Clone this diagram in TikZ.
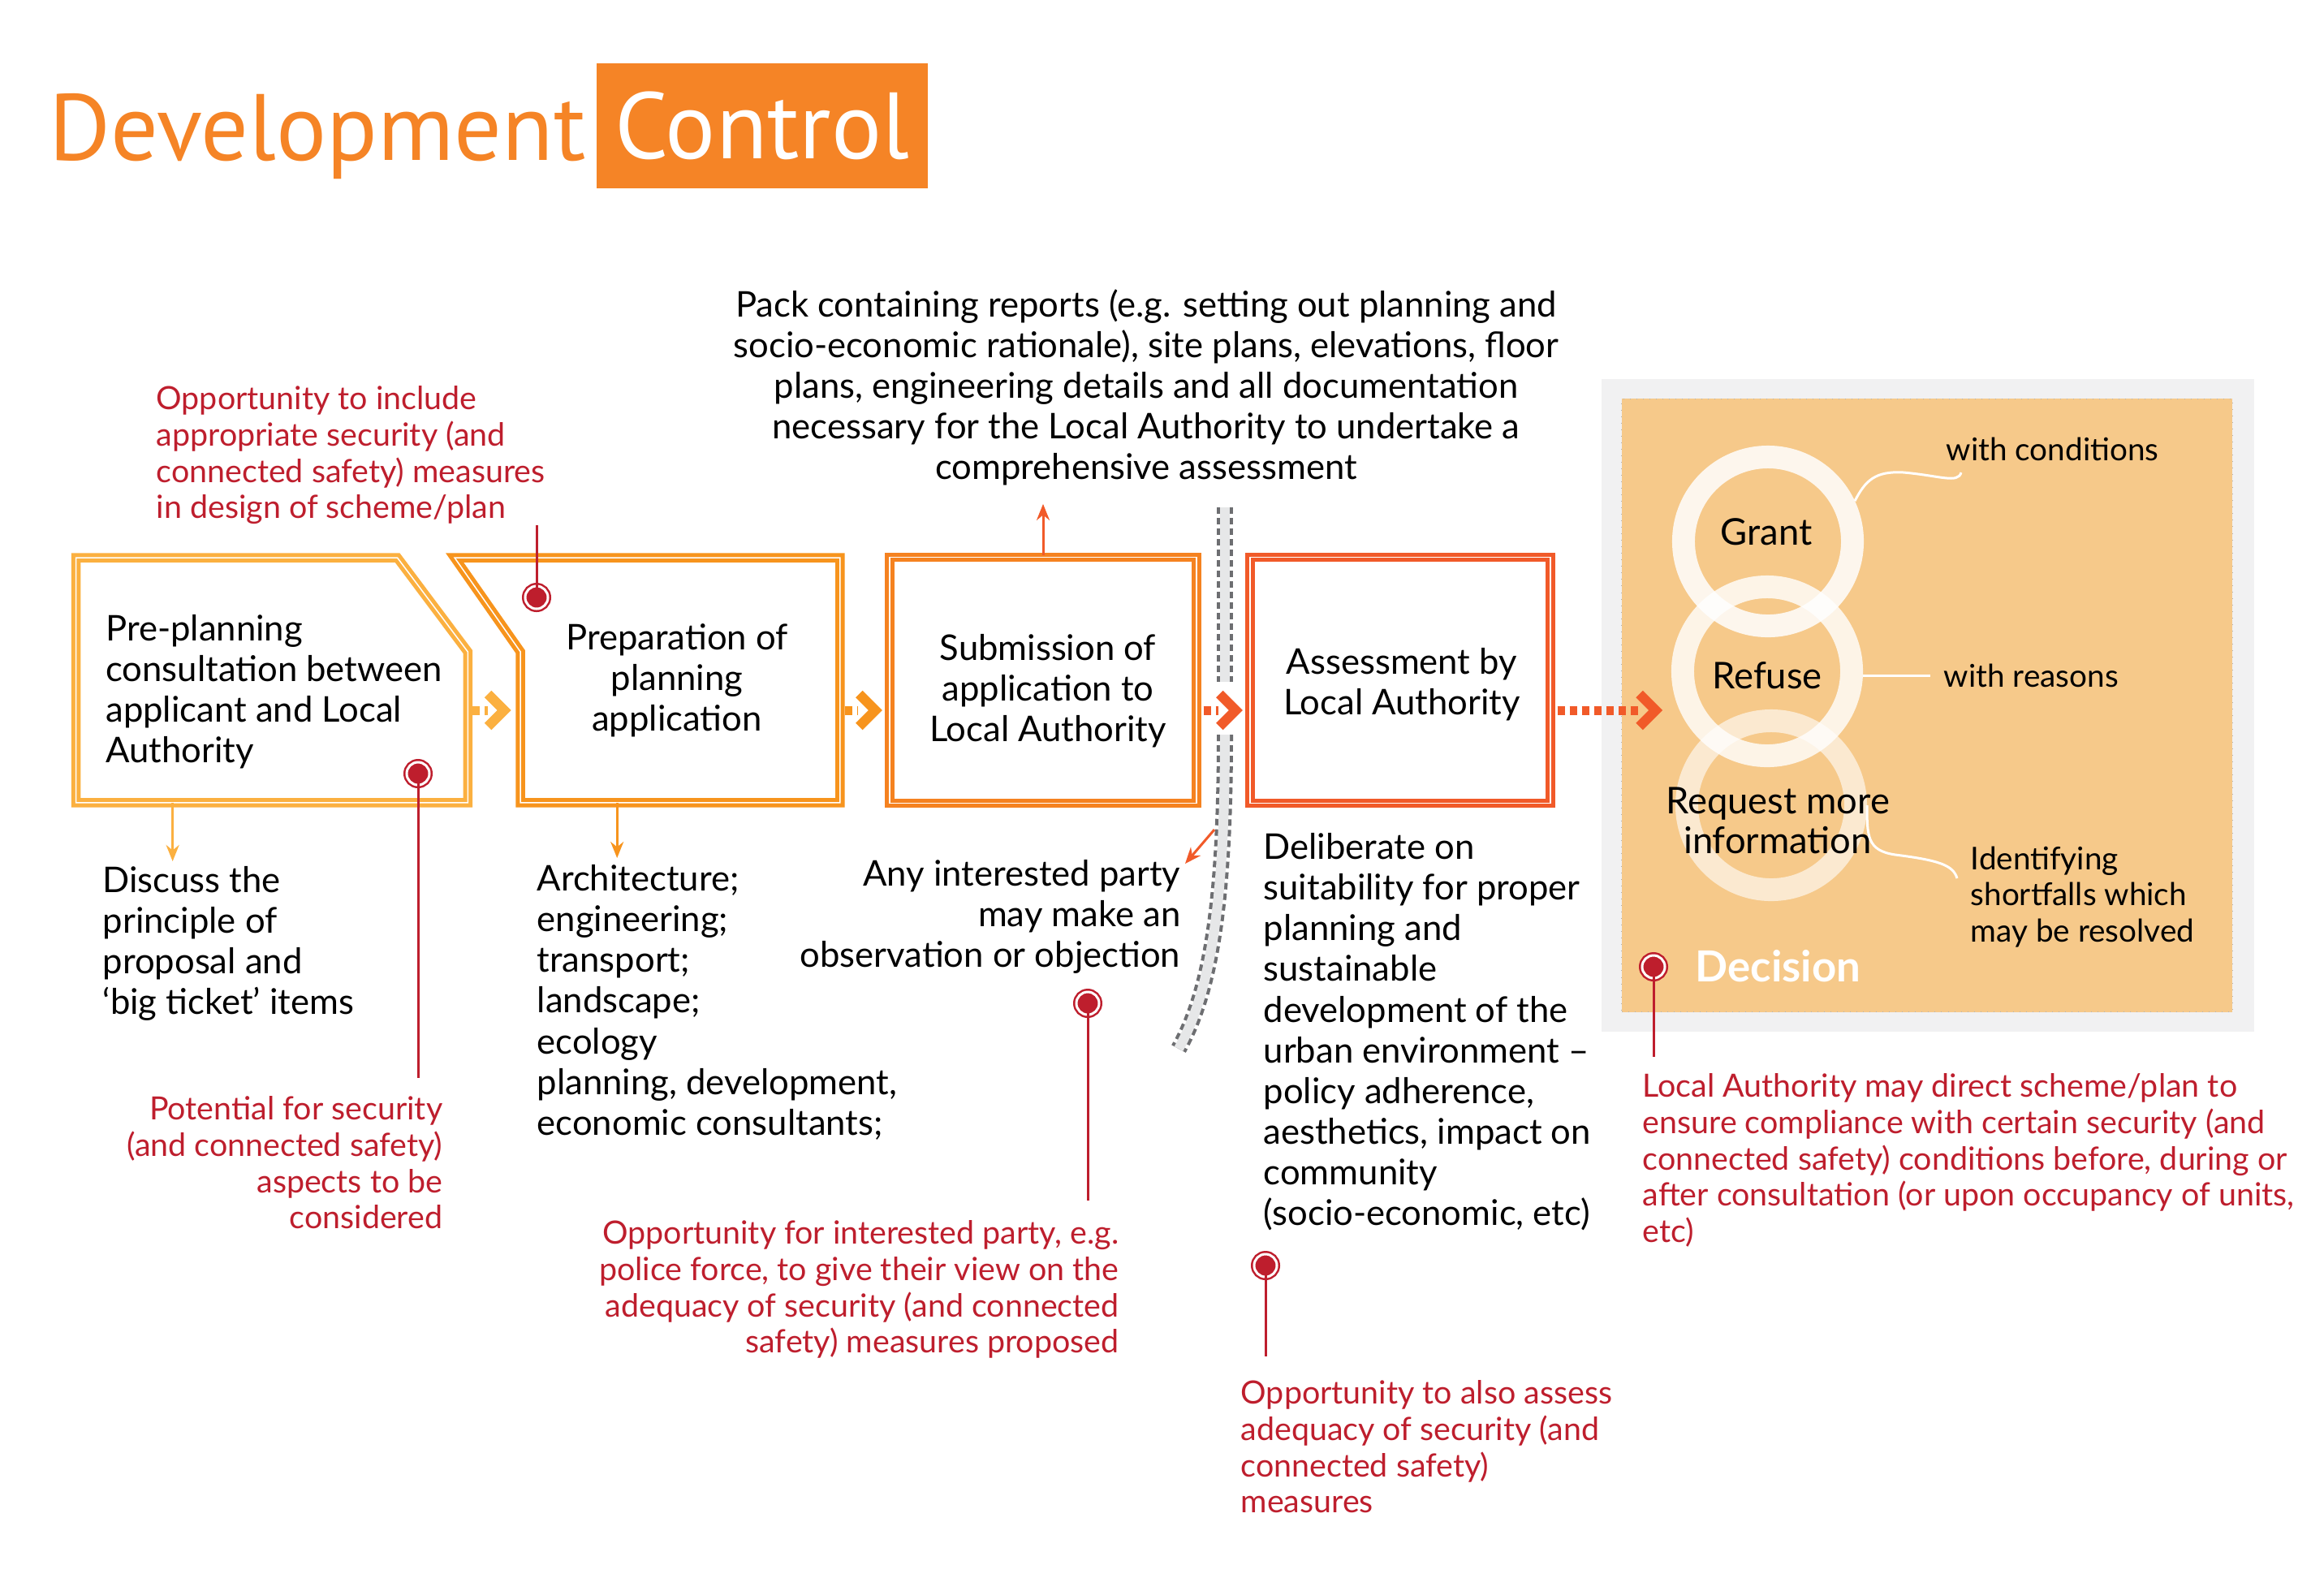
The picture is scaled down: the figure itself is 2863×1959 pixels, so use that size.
\documentclass[tikz,border=0pt]{standalone}
\usepackage{fontspec}
\setmainfont{Lato}
\newfontfamily\titlefont{PT Sans}
\usepackage{tikz}
\usetikzlibrary{calc,arrows.meta}

\definecolor{orT}{HTML}{F58426}
\definecolor{orA}{HTML}{FBB040}
\definecolor{orB}{HTML}{F7941D}
\definecolor{orC}{HTML}{F58220}
\definecolor{orD}{HTML}{F15A29}
\definecolor{redc}{HTML}{BE1E2D}
\definecolor{panel}{HTML}{F1F1F2}
\definecolor{sand}{HTML}{F6C98A}
\definecolor{band}{HTML}{E6E7E8}
\definecolor{bandedge}{HTML}{6D6E71}

\begin{document}
\begin{tikzpicture}[x=0.01cm,y=-0.01cm,
        txt/.style={inner sep=0,align=left,font=\fontsize{12.4}{14.23}\selectfont},
        rtxt/.style={inner sep=0,align=left,text=redc,font=\fontsize{11.2}{12.7}\selectfont},
        stxt/.style={inner sep=0,align=left,font=\fontsize{11}{12.7}\selectfont},
        sbox/.style={draw=#1,double=white,double distance=0.15mm,line width=0.5mm},
        redpin/.style={circle,fill=redc,draw=redc,double=white,double distance=0.3mm,line width=0.25mm,minimum size=2.8mm,inner sep=0},
        redline/.style={draw=redc,line width=0.3mm},
        flowdash/.style={draw=#1,line width=1.1mm,dash pattern=on 0.9mm off 0.6mm},
        chev/.style={draw=#1,line width=1.2mm},
        down/.style={draw=#1,line width=0.3mm,-{Stealth[length=2mm,width=1.6mm]}},
        ring/.style={circle,draw=white,line width=2.8mm,minimum size=20.8mm,inner sep=0},
        rtext/.style={inner sep=0,align=center,font=\fontsize{12.9}{14}\selectfont},
        wline/.style={draw=white,line width=0.3mm}]

        \useasboundingbox[fill=white] (0,0) rectangle (2863,1959);

        % title
        \node[anchor=base west,inner sep=0,text=orT,font=\titlefont\fontsize{33}{33}\selectfont] (ttl) at (60,197) {Development};
        \node[fill=orT,text=white,minimum width=40.7mm,minimum height=15.3mm,inner sep=0,font=\titlefont\fontsize{33}{33}\selectfont] (ctl) at (939,155) {Control};

        % decision panel
        \node[fill=panel,minimum width=80.3mm,minimum height=80.4mm,inner sep=0] (dec) at (2375,869) {};
        \node[fill=sand,draw=gray!60,dotted,line width=0.1mm,minimum width=75.2mm,minimum height=75.5mm,inner sep=0] (sandbox) at (2374,869) {};

        % steps
        \node[minimum width=48.1mm,minimum height=30mm,inner sep=0] (b1) at (335,838) {};
        \node[minimum width=39.2mm,minimum height=30mm,inner sep=0] (b2) at (838,838) {};
        \node[sbox=orC,minimum width=37.8mm,minimum height=30.3mm,inner sep=0] (b3) at (1285,838) {};
        \node[sbox=orD,minimum width=37mm,minimum height=30.3mm,inner sep=0] (b4) at (1725,838) {};

        \draw[sbox=orA] (b1.north west) -- ++(396,0) -- ($(b1.east)+(0,-35)$) -- (b1.south east) -- (b1.south west) -- cycle;
        \draw[sbox=orB] ($(b2.north west)+(-81,0)$) -- (b2.north east) -- (b2.south east) -- (b2.south west) -- ($(b2.west)+(0,-35)$) -- cycle;

        \node[txt,anchor=west] (b1t) at ($(b1.west)+(36,14)$) {Pre-planning\\consultation between\\applicant and Local\\Authority};
        \node[txt,align=center] (b2t) at ($(b2)+(-4,0)$) {Preparation of\\planning\\application};
        \node[txt,align=center] (b3t) at ($(b3)+(6,13)$) {Submission of\\application to\\Local Authority};
        \node[txt,align=center] (b4t) at ($(b4)+(2,5)$) {Assessment by\\Local Authority};

        % barrier
        \draw[bandedge,line width=2mm,dash pattern=on 0.8mm off 0.5mm] (1509,625) -- (1509,840);
        \draw[band,line width=1.2mm] (1509,625) -- (1509,840);
        \draw[bandedge,line width=2mm,dash pattern=on 0.8mm off 0.5mm] (1509,905) .. controls (1509,1110) and (1492,1220) .. (1452,1292);
        \draw[band,line width=1.2mm] (1509,905) .. controls (1509,1110) and (1492,1220) .. (1452,1292);

        % flow arrows
        \draw[flowdash=orA] ($(b1.east)+(6,37)$) -- ($(b2.west)+(-40,37)$);
        \draw[chev=orA] ($(b2.west)+(-40,17)$) -- ($(b2.west)+(-20,37)$) -- ($(b2.west)+(-40,57)$);
        \draw[flowdash=orB] ($(b2.east)+(6,37)$) -- ($(b3.west)+(-36,37)$);
        \draw[chev=orB] ($(b3.west)+(-35,17)$) -- ($(b3.west)+(-15,37)$) -- ($(b3.west)+(-35,57)$);
        \draw[flowdash=orD] ($(b3.east)+(6,37)$) -- ($(b4.west)+(-36,37)$);
        \draw[chev=orD] ($(b4.west)+(-35,17)$) -- ($(b4.west)+(-15,37)$) -- ($(b4.west)+(-35,57)$);
        \draw[flowdash=orD] ($(b4.east)+(6,37)$) -- ($(dec.west)+(48,6)$);
        \draw[chev=orD] ($(dec.west)+(47,-14)$) -- ($(dec.west)+(67,6)$) -- ($(dec.west)+(47,26)$);

        % texts
        \node[txt,anchor=north,align=center] (pack) at (1412,356) {Pack containing reports (e.g. setting out planning and\\socio-economic rationale), site plans, elevations, floor\\plans, engineering details and all documentation\\necessary for the Local Authority to undertake a\\comprehensive assessment};
        \node[rtxt,anchor=north west] (o1) at (192,475) {Opportunity to include\\appropriate security (and\\connected safety) measures\\in design of scheme/plan};
        \node[txt,anchor=north west] (disc) at (126,1067) {Discuss the\\principle of\\proposal and\\‘big ticket’ items};
        \node[rtxt,anchor=north east,align=right] (o2) at (546,1350) {Potential for security\\(and connected safety)\\aspects to be\\considered};
        \node[txt,anchor=north west] (arch) at (661,1065) {Architecture;\\engineering;\\transport;\\landscape;\\ecology\\planning, development,\\economic consultants;};
        \node[txt,anchor=north east,align=right] (any) at (1455,1059) {Any interested party\\may make an\\observation or objection};
        \node[rtxt,anchor=north east,align=right] (o3) at (1379,1503) {Opportunity for interested party, e.g.\\police force, to give their view on the\\adequacy of security (and connected\\safety) measures proposed};
        \node[txt,anchor=north west] (delib) at (1556,1026) {Deliberate on\\suitability for proper\\planning and\\sustainable\\development of the\\urban environment –\\policy adherence,\\aesthetics, impact on\\community\\(socio-economic, etc)};
        \node[rtxt,anchor=north west] (o4) at (1528,1700) {Opportunity to also assess\\adequacy of security (and\\connected safety)\\measures};
        \node[rtxt,anchor=north west] (o5) at (2023,1322) {Local Authority may direct scheme/plan to\\ensure compliance with certain security (and\\connected safety) conditions before, during or\\after consultation (or upon occupancy of units,\\etc)};

        % side arrows
        \coordinate (a1) at ($(b1.south west)+(119,0)$);
        \coordinate (a2) at ($(b2.south west)+(119,0)$);
        \coordinate (bd) at (1496,1022);
        \draw[down=orA] (a1) -- ($(a1 |- disc.north)+(0,-6)$);
        \draw[down=orB] (a2) -- ($(a2 |- arch.north)+(0,-8)$);
        \draw[down=orD] (b3.north) -- ($(b3.north |- pack.south)+(0,22)$);
        \draw[down=orD] (bd) -- ($(any.north east)+(5,5)$);

        % decision
        \node[ring,draw opacity=.85] (grant) at (2178,667) {};
        \node[ring,draw opacity=.8] (refuse) at (2177,827) {};
        \node[ring,draw opacity=.6] (request) at (2182,992) {};
        \node[rtext] (grantt) at (2176,655) {Grant};
        \node[rtext] (refuset) at (2177,832) {Refuse};
        \node[rtext] (requestt) at (2190,1011) {Request more\\information};
        \node[stxt,anchor=west] (cond) at (2397,553) {with conditions};
        \node[stxt,anchor=west] (reas) at (2394,832) {with reasons};
        \node[stxt,anchor=north west] (shrt) at (2427,1042) {Identifying\\shortfalls which\\may be resolved};
        \draw[wline] (grant.25) .. controls (2298,592) and (2310,580) .. (2345,582) .. controls (2390,586) and (2412,596) .. ($(cond.south west)+(19,14)$);
        \draw[wline] (refuse.east |- reas.west) -- ($(reas.west)+(-16,0)$);
        \draw[wline] (request.east) .. controls (2300,1030) and (2300,1048) .. (2335,1053) .. controls (2390,1060) and (2406,1066) .. ($(shrt.north west)+(-16,40)$);
        \node[anchor=west,inner sep=0,text=white,font=\bfseries\fontsize{15}{15}\selectfont] (dlbl) at (2088,1190) {Decision};

        % security pins
        \node[redpin] (r1) at (661,736) {};
        \node[redpin] (r2) at (515,953) {};
        \node[redpin] (r3) at (1340,1236) {};
        \node[redpin] (r4) at (1559,1559) {};
        \node[redpin] (r5) at (2037,1191) {};
        \draw[redline] (r1.center) -- (r1 |- o1.south);
        \draw[redline] (r2.center) -- ($(r2 |- o2.north)+(0,-22)$);
        \draw[redline] (r3.center) -- ($(r3 |- o3.north)+(0,-24)$);
        \draw[redline] (r4.center) -- ($(r4 |- o4.north)+(0,-29)$);
        \draw[redline] (r5.center) -- ($(r5 |- o5.north)+(0,-20)$);

    \end{tikzpicture}
\end{document}
